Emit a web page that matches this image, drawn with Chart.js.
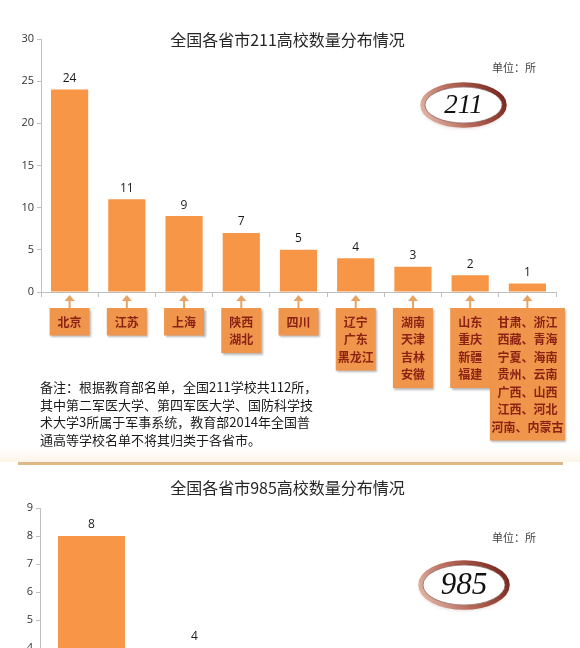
<!DOCTYPE html>
<html lang="zh-CN">
<head>
<meta charset="utf-8">
<title>全国各省市211/985高校数量分布情况</title>
<script src="https://cdn.jsdelivr.net/npm/chart.js@4.4.1/dist/chart.umd.min.js"></script>
<style>
  html, body { margin: 0; padding: 0; background: #fff; }
  body { width: 580px; height: 648px; overflow: hidden; position: relative; font-family: 'Noto Sans CJK SC', sans-serif; }
  .wrap { position: absolute; left: 0; width: 580px; }
  #wrap211 { top: 0; height: 470px; }
  #wrap985 { top: 466px; height: 310px; }
  .title { position: absolute; left: 0; width: 575px; text-align: center; font-size: 16px; line-height: 22px; color: #262626; }
  .unit { position: absolute; left: 492px; font-size: 11px; line-height: 14px; color: #444; }
  .note { position: absolute; left: 40px; top: 378px; font-size: 13px; line-height: 17.5px; color: #1a1a1a; white-space: nowrap; }
  .haze { position: absolute; left: 0; top: 448px; width: 580px; height: 14px; background: linear-gradient(#fff, #fdf5e8); }
  .rule { position: absolute; left: 18px; top: 462px; width: 545px; height: 3px; background: #DDB788; }
</style>
</head>
<body>
<div class="haze"></div>
<div class="rule"></div>
<div class="wrap" id="wrap211"><canvas id="chart211"></canvas></div>
<div class="wrap" id="wrap985"><canvas id="chart985"></canvas></div>

<div class="title" style="top:28px">全国各省市211高校数量分布情况</div>
<div class="unit" style="top:60px">单位：所</div>
<div class="note">备注：根据教育部名单，全国211学校共112所，<br>其中第二军医大学、第四军医大学、国防科学技<br>术大学3所属于军事系统，教育部2014年全国普<br>通高等学校名单不将其归类于各省市。</div>

<div class="title" style="top:476px">全国各省市985高校数量分布情况</div>
<div class="unit" style="top:530px">单位：所</div>

<script>
// 211
const provinces211 = [
    ['北京'], ['江苏'], ['上海'], ['陕西', '湖北'], ['四川'],
    ['辽宁', '广东', '黑龙江'], ['湖南', '天津', '吉林', '安徽'], ['山东', '重庆', '新疆', '福建'],
    ['甘肃、浙江', '西藏、青海', '宁夏、海南', '贵州、云南', '广西、山西', '江西、河北', '河南、内蒙古']
];
const counts211 = [24, 11, 9, 7, 5, 4, 3, 2, 1];
const yMax211 = 30;
const yStep211 = 5;

// 985
const provinces985 = [
    ['北京'], ['上海'], ['陕西', '湖南'],
    ['天津', '辽宁', '广东', '湖北', '四川', '山东', '江苏'],
    ['黑龙江', '吉林', '安徽', '福建', '浙江', '重庆', '甘肃']
];
const counts985 = [8, 4, 3, 2, 1];
const yMax985 = 9;
const yStep985 = 1;

const BAR = '#F79646';
const AXIS = '#BFBFBF';
const BOX = '#F0964C';
const BOX_TEXT = '#8B2214';
const ARROW = '#E8A262';

Chart.defaults.font.family = '"Noto Sans CJK SC", sans-serif';

function drawBoxes(chart) {
    const ctx = chart.ctx;
    const xs = chart.scales.x;
    const base = chart.chartArea.bottom;
    chart.data.labels.forEach((lines, i) => {
        const cx = xs.getPixelForValue(i);

        // strzałka w górę
        ctx.strokeStyle = ARROW;
        ctx.fillStyle = ARROW;
        ctx.lineWidth = 2;
        ctx.beginPath();
        ctx.moveTo(cx, base + 8);
        ctx.lineTo(cx, base + 16);
        ctx.stroke();
        ctx.beginPath();
        ctx.moveTo(cx, base + 3);
        ctx.lineTo(cx - 5, base + 9);
        ctx.lineTo(cx + 5, base + 9);
        ctx.closePath();
        ctx.fill();

        ctx.font = 'bold 12px "Noto Sans CJK SC"';
        const textW = Math.max(...lines.map(t => ctx.measureText(t).width));
        const w = Math.max(40, textW + 3);
        const h = lines.length * 17.5 + 10;
        const top = base + 16;

        ctx.save();
        ctx.shadowColor = 'rgba(0,0,0,0.28)';
        ctx.shadowBlur = 2;
        ctx.shadowOffsetX = 1.5;
        ctx.shadowOffsetY = 1.5;
        ctx.fillStyle = BOX;
        ctx.fillRect(cx - w / 2, top, w, h);
        ctx.restore();

        ctx.fillStyle = BOX_TEXT;
        ctx.textAlign = 'center';
        ctx.textBaseline = 'middle';
        lines.forEach((t, j) => ctx.fillText(t, cx, top + 14 + j * 17.5));
    });
}

function drawLogo(ctx, logo) {
    const { x, y, rx, ry, text, size } = logo;
    ctx.save();
    ctx.shadowColor = 'rgba(120,60,40,0.3)';
    ctx.shadowBlur = 4;
    ctx.shadowOffsetY = 2;
    ctx.beginPath();
    ctx.ellipse(x, y, rx - 2.5, ry - 2.5, 0, 0, Math.PI * 2);
    ctx.fillStyle = '#fff';
    ctx.fill();
    ctx.shadowColor = 'transparent';

    const g = ctx.createLinearGradient(x - rx, y + ry, x + rx, y - ry);
    g.addColorStop(0, '#EBC6B5');
    g.addColorStop(0.45, '#B86A5A');
    g.addColorStop(1, '#6B1A14');
    ctx.strokeStyle = g;
    ctx.lineWidth = 4.5;
    ctx.stroke();

    ctx.beginPath();
    ctx.ellipse(x, y, rx - 5, ry - 5, 0, 0, Math.PI * 2);
    ctx.strokeStyle = 'rgba(90,30,25,0.55)';
    ctx.lineWidth = 1;
    ctx.stroke();

    ctx.font = `italic ${size}px "Liberation Serif"`;
    ctx.fillStyle = '#111';
    ctx.textAlign = 'center';
    ctx.textBaseline = 'middle';
    ctx.fillText(text, x, y + 1);
    ctx.restore();
}

const extrasPlugin = {
    id: 'extras',
    afterDatasetsDraw(chart, args, opts) {
        const ctx = chart.ctx;
        const meta = chart.getDatasetMeta(0);
        const values = chart.data.datasets[0].data;
        ctx.save();
        ctx.font = '12px "Open Sans"';
        ctx.fillStyle = '#1a1a1a';
        ctx.textAlign = 'center';
        ctx.textBaseline = 'middle';
        meta.data.forEach((bar, i) => ctx.fillText(values[i], bar.x, bar.y - 11));
        if (opts.boxes) drawBoxes(chart);
        if (opts.logo) drawLogo(ctx, opts.logo);
        ctx.restore();
    }
};

function makeChart(id, labels, data, yMax, yStep, axisW, axisH, padding, extras) {
    return new Chart(document.getElementById(id), {
        type: 'bar',
        data: {
            labels: labels,
            datasets: [{
                data: data,
                backgroundColor: BAR,
                borderWidth: 0,
                barPercentage: 0.65,
                categoryPercentage: 1
            }]
        },
        options: {
            responsive: true,
            maintainAspectRatio: false,
            animation: false,
            devicePixelRatio: 1,
            layout: { padding: padding },
            scales: {
                x: {
                    ticks: { display: false },
                    grid: { drawOnChartArea: false, drawTicks: true, tickLength: 5, color: AXIS, offset: true },
                    border: { color: AXIS },
                    afterFit: s => { s.height = axisH; }
                },
                y: {
                    min: 0,
                    max: yMax,
                    ticks: { stepSize: yStep, color: '#333', padding: 3, font: { size: 11, family: '"Open Sans"' } },
                    grid: { drawOnChartArea: false, drawTicks: true, tickLength: 4, color: AXIS },
                    border: { color: AXIS },
                    afterFit: s => { s.width = axisW; }
                }
            },
            plugins: {
                legend: { display: false },
                tooltip: { enabled: false },
                extras: extras
            }
        },
        plugins: [extrasPlugin]
    });
}

makeChart('chart211', provinces211, counts211, yMax211, yStep211, 41, 178,
    { top: 39, right: 24, bottom: 0, left: 0 },
    { boxes: true, logo: { x: 463.5, y: 105, rx: 43.5, ry: 23, text: '211', size: 27 } });

makeChart('chart985', provinces985, counts985, yMax985, yStep985, 40, 16,
    { top: 42, right: 25, bottom: 0, left: 0 },
    { boxes: false, logo: { x: 464, y: 119, rx: 46, ry: 25, text: '985', size: 31 } });
</script>
</body>
</html>
